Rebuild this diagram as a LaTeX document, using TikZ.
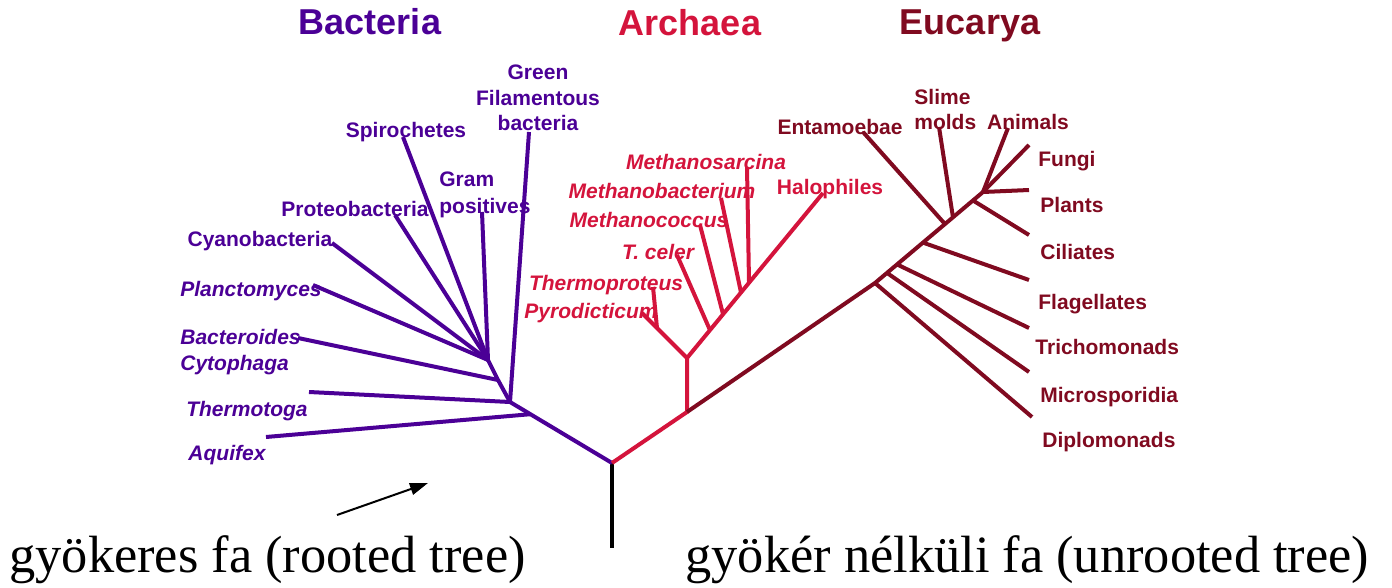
\documentclass[tikz,border=0pt]{standalone}
\usepackage{fontspec}
\setmainfont{Liberation Serif}
\newfontfamily\arialf{Liberation Sans}
\usetikzlibrary{calc,arrows.meta}
\definecolor{bac}{RGB}{75,0,150}
\definecolor{arc}{RGB}{212,20,60}
\definecolor{euc}{RGB}{128,10,32}
\begin{document}
\begin{tikzpicture}[x=0.5pt,y=-0.5pt,
  lbl/.style={font=\arialf\bfseries\fontsize{10.5}{12}\selectfont, inner sep=0pt, anchor=base},
  ilbl/.style={font=\arialf\bfseries\itshape\fontsize{10.5}{12}\selectfont, inner sep=0pt, anchor=base},
  ttl/.style={font=\arialf\bfseries\fontsize{18}{20}\selectfont, inner sep=0pt, anchor=base},
  big/.style={font=\fontsize{26.2}{30}\selectfont, inner sep=0pt, anchor=base west},
  br/.style={line width=2pt},
  bb/.style={br, draw=bac},
  ab/.style={br, draw=arc},
  eb/.style={br, draw=euc}]
\useasboundingbox (0,0) rectangle (1392,588);

% titles
\node[ttl, text=bac] (tB) at (370,35) {Bacteria};
\node[ttl, text=arc] (tA) at (690,36) {Archaea};
\node[ttl, text=euc] (tE) at (970,35) {Eucarya};

% ---------- root ----------
\coordinate (R) at (612,463);
\coordinate (Rb) at (612,548);
\draw[line width=2pt] (R) -- (Rb);

% ---------- Bacteria ----------
\coordinate (B0) at (510,402);
\coordinate (B1) at (498,380);
\coordinate (B2) at (488,360);
\coordinate (BAq) at ($(B0)!0.2!(R)$);
\coordinate (eAq) at (266,437);
\coordinate (eTh) at (309,392);
\coordinate (eGr) at (529,132);
\coordinate (eBa) at (298,338);
\coordinate (ePl) at (313,285);
\coordinate (eCy) at (332,243);
\coordinate (ePr) at (395,215);
\coordinate (eSp) at (403,137);
\coordinate (eGp) at (482,212);
\draw[bb] (R) -- (B0) -- (B1) -- (B2);
\draw[bb] (BAq) -- (eAq);
\draw[bb] (B0) -- (eTh);
\draw[bb] (B0) -- (eGr);
\draw[bb] (B1) -- (eBa);
\draw[bb] (B2) -- (ePl);
\draw[bb] (B2) -- (eCy);
\draw[bb] (B2) -- (ePr);
\draw[bb] (B2) -- (eSp);
\draw[bb] (B2) -- (eGp);

\node[lbl, text=bac] (lGr1) at (538,80) {Green};
\node[lbl, text=bac] (lGr2) at (538,106) {Filamentous};
\node[lbl, text=bac] (lGr3) at (538,131) {bacteria};
\node[lbl, text=bac] (lSp) at (406,138) {Spirochetes};
\node[lbl, text=bac, anchor=base west] (lGp1) at (439,187) {Gram};
\node[lbl, text=bac, anchor=base west] (lGp2) at (439,214) {positives};
\node[lbl, text=bac] (lPr) at (355,217) {Proteobacteria};
\node[lbl, text=bac] (lCy) at (260,247) {Cyanobacteria};
\node[ilbl, text=bac] (lPl) at (251,297) {Planctomyces};
\node[ilbl, text=bac, anchor=base west] (lBa1) at (180,344) {Bacteroides};
\node[ilbl, text=bac, anchor=base west] (lBa2) at (180,370) {Cytophaga};
\node[ilbl, text=bac] (lTh) at (247,416) {Thermotoga};
\node[ilbl, text=bac] (lAq) at (227,460) {Aquifex};

% ---------- Archaea ----------
\coordinate (A0) at (687,412);
\coordinate (A1) at (687,358);
\coordinate (ePy) at (642,313);
\coordinate (AT) at ($(A1)!0.667!(ePy)$);
\coordinate (eTp) at (653,287);
\coordinate (eHa) at (823,193);
\coordinate (ATc) at ($(A1)!0.169!(eHa)$);
\coordinate (AMc) at ($(A1)!0.265!(eHa)$);
\coordinate (AMb) at ($(A1)!0.397!(eHa)$);
\coordinate (AMs) at ($(A1)!0.456!(eHa)$);
\coordinate (eTc) at (677,255);
\coordinate (eMc) at (700,225);
\coordinate (eMb) at (721,198);
\coordinate (eMs) at (747,167);
\draw[ab] (R) -- (A0) -- (A1);
\draw[ab] (A1) -- (ePy);
\draw[ab] (AT) -- (eTp);
\draw[ab] (A1) -- (eHa);
\draw[ab] (ATc) -- (eTc);
\draw[ab] (AMc) -- (eMc);
\draw[ab] (AMb) -- (eMb);
\draw[ab] (AMs) -- (eMs);

\node[ilbl, text=arc] (lMs) at (706,170) {Methanosarcina};
\node[ilbl, text=arc] (lMb) at (662,199) {Methanobacterium};
\node[ilbl, text=arc] (lMc) at (649,228) {Methanococcus};
\node[ilbl, text=arc] (lTc) at (658,260) {T. celer};
\node[ilbl, text=arc] (lTp) at (606,291) {Thermoproteus};
\node[ilbl, text=arc] (lPy) at (591,319) {Pyrodicticum};
\node[lbl, text=arc] (lHa) at (830,195) {Halophiles};

% ---------- Eucarya ----------
\coordinate (E0) at (875,283);
\coordinate (E5) at (983,192);
\coordinate (EMi) at ($(E0)!0.111!(E5)$);
\coordinate (ETr) at ($(E0)!0.204!(E5)$);
\coordinate (EFl) at ($(E0)!0.444!(E5)$);
\coordinate (EEn) at ($(E0)!0.648!(E5)$);
\coordinate (ESl) at ($(E0)!0.722!(E5)$);
\coordinate (ECi) at ($(E0)!0.907!(E5)$);
\coordinate (eDi) at (1032,417);
\coordinate (eMi) at (1029,372);
\coordinate (eTr) at (1029,328);
\coordinate (eFl) at (1029,280);
\coordinate (eCi) at (1029,235);
\coordinate (eEn) at (863,132);
\coordinate (eSl) at (939,127);
\coordinate (eAn) at (1008,128);
\coordinate (eFu) at (1029,145);
\coordinate (ePt) at (1029,190);
\draw[eb] (A0) -- (E0) -- (E5);
\draw[eb] (E0) -- (eDi);
\draw[eb] (EMi) -- (eMi);
\draw[eb] (ETr) -- (eTr);
\draw[eb] (EFl) -- (eFl);
\draw[eb] (EEn) -- (eEn);
\draw[eb] (ESl) -- (eSl);
\draw[eb] (ECi) -- (eCi);
\draw[eb] (E5) -- (eAn);
\draw[eb] (E5) -- (eFu);
\draw[eb] (E5) -- (ePt);

\node[lbl, text=euc] (lEn) at (840,135) {Entamoebae};
\node[lbl, text=euc, anchor=base west] (lSl1) at (914,105) {Slime};
\node[lbl, text=euc, anchor=base west] (lSl2) at (914,130) {molds};
\node[lbl, text=euc] (lAn) at (1028,130) {Animals};
\node[lbl, text=euc, anchor=base west] (lFu) at (1038,167) {Fungi};
\node[lbl, text=euc, anchor=base west] (lPt) at (1040,213) {Plants};
\node[lbl, text=euc, anchor=base west] (lCi) at (1040,260) {Ciliates};
\node[lbl, text=euc, anchor=base west] (lFl) at (1038,309) {Flagellates};
\node[lbl, text=euc, anchor=base west] (lTr) at (1035,354) {Trichomonads};
\node[lbl, text=euc, anchor=base west] (lMi) at (1040,402) {Microsporidia};
\node[lbl, text=euc, anchor=base west] (lDi) at (1042,447) {Diplomonads};

% ---------- bottom ----------
\coordinate (arS) at (337,515);
\coordinate (arE) at (428,483);
\draw[line width=1pt, -{Triangle[length=9pt,width=6pt]}] (arS) -- (arE);
\node[big] (lRoot) at (9,572) {gyökeres fa (rooted tree)};
\node[big] (lUnr) at (685,572) {gyökér nélküli fa (unrooted tree)};
\end{tikzpicture}
\end{document}
